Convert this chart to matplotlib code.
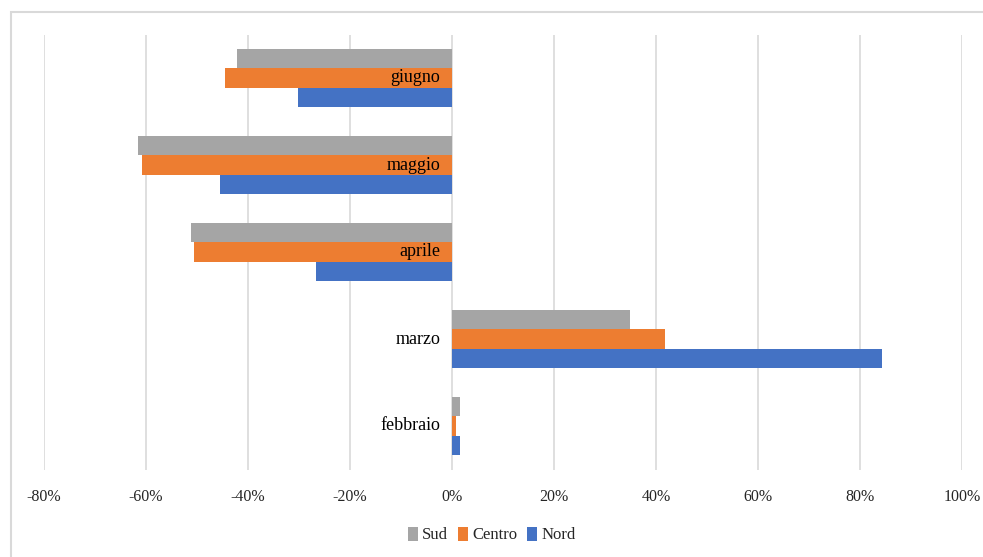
import matplotlib
matplotlib.use("Agg")
import matplotlib.pyplot as plt
import numpy as np
from matplotlib.patches import Rectangle
from matplotlib.ticker import FuncFormatter

months = ["febbraio", "marzo", "aprile", "maggio", "giugno"]
nord = [1.5, 84.3, -26.7, -45.4, -30.1]
centro = [0.7, 41.8, -50.5, -60.7, -44.5]
sud = [1.6, 34.9, -51.2, -61.6, -42.2]
xticks = [-80, -60, -40, -20, 0, 20, 40, 60, 80, 100]

BLU, ORG, GRY = "#4472c4", "#ed7d31", "#a5a5a5"
FONT = "Liberation Serif"

fig = plt.figure(figsize=(9.83, 5.57), dpi=100)
ax = fig.add_axes([44 / 983, 1 - 469.5 / 557, (962 - 44) / 983, (469.5 - 34.5) / 557])

# chart-area border (cut off at the right/bottom like the screenshot)
fig.patches.append(Rectangle((11 / 983, -0.1), 1.2, 1 - 12 / 557 + 0.1,
                             transform=fig.transFigure, fill=False,
                             edgecolor="#d9d9d9", lw=1.5))

y = np.arange(len(months))
h = 0.222
ax.barh(y - h, nord, height=h, color=BLU, label="Nord", zorder=2)
ax.barh(y, centro, height=h, color=ORG, label="Centro", zorder=2)
ax.barh(y + h, sud, height=h, color=GRY, label="Sud", zorder=2)

ax.set_xlim(-80, 100)
ax.set_ylim(-0.5, len(months) - 0.5)
ax.set_xticks(xticks)
ax.xaxis.set_major_formatter(FuncFormatter(lambda v, _: f"{v:.0f}%"))
ax.grid(axis="x", color="#d9d9d9", lw=1.2, zorder=0)
ax.set_yticks([])
ax.tick_params(axis="x", length=0, pad=14, labelsize=11.5, labelcolor="#262626")
for lab in ax.get_xticklabels():
    lab.set_fontfamily(FONT)
for s in ax.spines.values():
    s.set_visible(False)

# category labels sit at the zero line, drawn over the bars
for yi, m in zip(y, months):
    ax.text(-2.3, yi, m, ha="right", va="center", fontsize=13,
            family=FONT, color="black", zorder=4)

handles, labels = ax.get_legend_handles_labels()
leg = fig.legend(handles[::-1], labels[::-1], loc="center", ncol=3,
                 bbox_to_anchor=(0.5, 1 - 535 / 557), frameon=False,
                 prop={"family": FONT, "size": 12}, handlelength=0.6,
                 handleheight=0.9, handletextpad=0.25, columnspacing=0.6)
for t in leg.get_texts():
    t.set_color("#262626")

fig.savefig("out.png", dpi=100)
